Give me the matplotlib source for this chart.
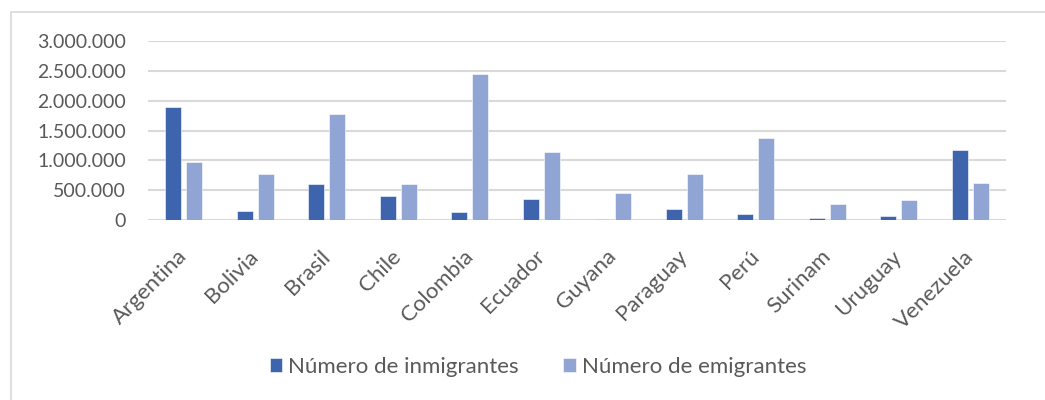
import numpy as np
import matplotlib
matplotlib.use("Agg")
import matplotlib.pyplot as plt
from matplotlib.ticker import FuncFormatter
from matplotlib.patches import Rectangle

paises = ["Argentina", "Bolivia", "Brasil", "Chile", "Colombia", "Ecuador",
          "Guyana", "Paraguay", "Perú", "Surinam", "Uruguay", "Venezuela"]
inmigrantes = [1887000, 151000, 599000, 398000, 129000, 358000,
               11000, 179000, 106000, 39000, 67000, 1170000]
emigrantes = [974000, 767000, 1769000, 605000, 2452000, 1148000,
              459000, 767000, 1372000, 263000, 330000, 627000]

plt.rcParams['font.family'] = ['Lato', 'DejaVu Sans']
gris = '#595959'

fig = plt.figure(figsize=(10.45, 4.0), dpi=100)
fig.patches.append(Rectangle((11/1045, -0.1), 1.2, 0.1 + 1 - 12/400,
                             transform=fig.transFigure, fill=False,
                             edgecolor='#D9D9D9', linewidth=1.2))
ax = fig.add_axes([148/1045, 0.45, 858/1045, 0.4475])

x = np.arange(len(paises))
w = 0.224
ax.bar(x - 0.147, inmigrantes, w, color='#3E64AD', edgecolor='white',
       linewidth=0.4, label='Número de inmigrantes', zorder=3)
ax.bar(x + 0.147, emigrantes, w, color='#91A5D4', edgecolor='white',
       linewidth=0.4, label='Número de emigrantes', zorder=3)

ax.set_xlim(-0.5, len(paises) - 0.5)
ax.set_ylim(0, 3000000)
ax.set_yticks(np.arange(0, 3000001, 500000))
ax.yaxis.set_major_formatter(FuncFormatter(lambda v, p: f"{int(v):,}".replace(",", ".")))
ax.grid(axis='y', color='#D9D9D9', linewidth=1.5, zorder=0)
for s in ax.spines.values():
    s.set_visible(False)
ax.tick_params(axis='both', length=0, colors=gris)
ax.tick_params(axis='y', pad=16, labelsize=14)
ax.set_xticks(x)
ax.set_xticklabels(paises, rotation=45, ha='right', va='center',
                   rotation_mode='anchor', fontsize=16)
ax.tick_params(axis='x', pad=24)

leg = fig.legend(loc='center', bbox_to_anchor=(0.515, 0.0825), ncol=2,
                 frameon=False, fontsize=16, handlelength=0.55, handleheight=0.55,
                 handletextpad=0.3, columnspacing=2.0)
for t in leg.get_texts():
    t.set_color(gris)

fig.savefig('out.png', dpi=100)
